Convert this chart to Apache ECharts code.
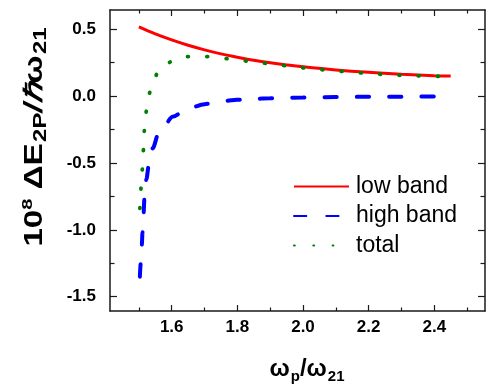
<!DOCTYPE html>
<html>
<head>
<meta charset="utf-8">
<script src="https://cdn.jsdelivr.net/npm/echarts@6/dist/echarts.min.js"></script>
<style>html,body{margin:0;padding:0;background:#fff}#c{width:488px;height:386px}</style>
</head>
<body>
<div id="c"></div>
<script>
// ---- data ----
const lowX  = [1.50, 1.55, 1.60, 1.65, 1.70, 1.75, 1.80, 1.85, 1.90, 1.95, 2.00, 2.10, 2.20, 2.30, 2.40, 2.45];
const lowY  = [0.517, 0.465, 0.420, 0.380, 0.346, 0.316, 0.291, 0.268, 0.249, 0.233, 0.219, 0.196, 0.178, 0.164, 0.153, 0.150];

const highX = [1.503, 1.506, 1.509, 1.511, 1.514, 1.517, 1.523, 1.530, 1.542, 1.560, 1.580, 1.6025, 1.65, 1.70, 1.75, 1.80, 1.85, 1.90, 2.00, 2.10, 2.20, 2.30, 2.45];
const highY = [-1.35, -1.24, -1.11, -1.02, -0.89, -0.76, -0.62, -0.52, -0.39, -0.28, -0.21, -0.154, -0.092, -0.060, -0.038, -0.028, -0.021, -0.016, -0.010, -0.007, -0.005, -0.004, -0.003];

const totX  = [1.503, 1.507, 1.511, 1.514, 1.517, 1.523, 1.535, 1.559, 1.585, 1.615, 1.645, 1.674, 1.705, 1.733, 1.791, 1.85, 1.909, 1.968, 2.026, 2.086, 2.144, 2.202, 2.261, 2.321, 2.38, 2.45];
const totY  = [-0.84, -0.68, -0.54, -0.40, -0.25, -0.11, 0.04, 0.181, 0.245, 0.281, 0.295, 0.299, 0.296, 0.291, 0.274, 0.256, 0.239, 0.221, 0.205, 0.191, 0.180, 0.169, 0.160, 0.153, 0.149, 0.148];

const seriesNames = ['low band', 'high band', 'total'];
const xMajor = [1.6, 1.8, 2.0, 2.2, 2.4];
const xMinor = [1.5, 1.7, 1.9, 2.1, 2.3, 2.5];
const yMajor = [-1.5, -1.0, -0.5, 0.0, 0.5];
const yMinor = [-1.25, -0.75, -0.25, 0.25];
const xRange = [1.412, 2.5545];
const yRange = [-1.607, 0.644];

const pair = (xs, ys) => xs.map((x, i) => [x, ys[i]]);
const FONT = "'Liberation Sans', Arial, sans-serif";

function mkAxis(kind, pos, ticks, len, showLine, labels) {
  const r = kind === 'x' ? xRange : yRange;
  return {
    type: 'value', position: pos, min: r[0], max: r[1],
    axisLine: { show: showLine, onZero: false, lineStyle: { color: '#1a1a1a', width: 1.5 } },
    axisTick: { show: true, inside: true, length: len, customValues: ticks, lineStyle: { color: '#1a1a1a', width: 1.2 } },
    axisLabel: labels ? {
      show: true, customValues: ticks, margin: kind === 'x' ? 8 : 14,
      fontFamily: FONT, fontWeight: 'bold', fontSize: 17, color: '#000',
      formatter: v => v.toFixed(1)
    } : { show: false },
    splitLine: { show: false }
  };
}

const chart = echarts.init(document.getElementById('c'), null, { renderer: 'canvas' });
chart.setOption({
  animation: false,
  backgroundColor: '#fff',
  grid: { left: 110, right: 3, top: 10, bottom: 75, containLabel: false },
  xAxis: [
    mkAxis('x', 'bottom', xMajor, 6, true, true),
    mkAxis('x', 'bottom', xMinor, 3.5, false, false),
    mkAxis('x', 'top', xMajor, 6, true, false),
    mkAxis('x', 'top', xMinor, 3.5, false, false)
  ],
  yAxis: [
    mkAxis('y', 'left', yMajor, 7, true, true),
    mkAxis('y', 'left', yMinor, 4.5, false, false),
    mkAxis('y', 'right', yMajor, 7, true, false),
    mkAxis('y', 'right', yMinor, 4.5, false, false)
  ],
  legend: {
    orient: 'vertical', left: 293, top: 175, padding: 0,
    itemWidth: 55, itemHeight: 14, itemGap: 6.5,
    data: seriesNames,
    itemStyle: { opacity: 0 },
    textStyle: { fontFamily: FONT, fontSize: 23, lineHeight: 23, color: '#000', padding: [0, 0, 0, 2] }
  },
  series: [
    { name: seriesNames[0], type: 'line', data: pair(lowX, lowY), symbol: 'none', smooth: 0.4,
      lineStyle: { color: '#ff0000', width: 3 }, itemStyle: { color: '#ff0000' }, z: 2 },
    { name: seriesNames[1], type: 'line', data: pair(highX, highY), symbol: 'none', smooth: 0.3, smoothMonotone: 'x',
      lineStyle: { color: '#0000ff', width: 4, type: [12.3, 20], cap: 'round' }, itemStyle: { color: '#0000ff' }, z: 3 },
    { name: seriesNames[2], type: 'line', data: pair(totX, totY), symbol: 'none', smooth: 0.3, smoothMonotone: 'x',
      lineStyle: { color: '#008000', width: 3.8, type: [0.8, 18.5], cap: 'round' }, itemStyle: { color: '#008000' }, z: 4 }
  ],
  graphic: [
    { type: 'text', x: 307, y: 369, z: 10,
      style: { text: '{w|ω}{s|p}{w|/ω}{s|21}', align: 'center', verticalAlign: 'middle',
        rich: {
          w: { fontFamily: FONT, fontWeight: 'bold', fontSize: 24, lineHeight: 30, fill: '#000' },
          s: { fontFamily: FONT, fontWeight: 'bold', fontSize: 15, lineHeight: 15, verticalAlign: 'bottom', padding: [8, 0, 0, 1], fill: '#000' }
        } } },
    { type: 'text', x: 35, y: 137, rotation: Math.PI / 2, scaleX: 1.33, z: 10,
      style: { text: '{a|10}{p|8}{a| ΔE}{s|2P}{i|/ℏ}{a|ω}{s|21}', align: 'center', verticalAlign: 'middle',
        rich: {
          a: { fontFamily: FONT, fontWeight: 'bold', fontSize: 25, lineHeight: 30, fill: '#000' },
          i: { fontFamily: FONT, fontWeight: 'bold', fontStyle: 'italic', fontSize: 25, lineHeight: 30, fill: '#000' },
          p: { fontFamily: FONT, fontWeight: 'bold', fontSize: 15, lineHeight: 15, verticalAlign: 'top', fill: '#000' },
          s: { fontFamily: FONT, fontWeight: 'bold', fontSize: 18, lineHeight: 18, verticalAlign: 'bottom', padding: [8, 0, 0, 1], fill: '#000' }
        } } }
  ]
});
</script>
</body>
</html>
